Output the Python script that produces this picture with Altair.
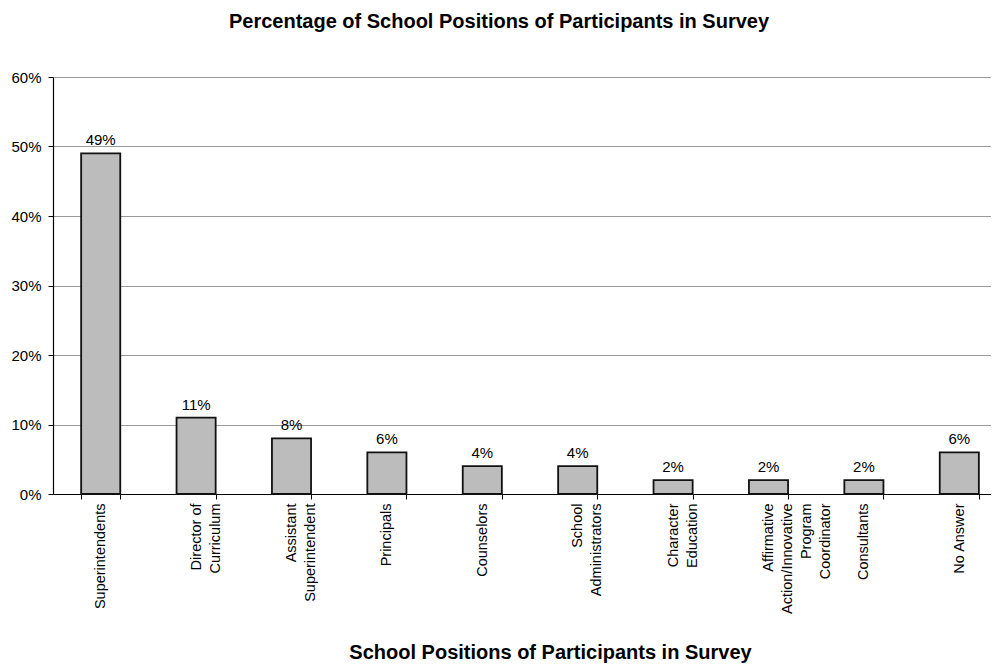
import altair as alt
import pandas as pd

categories = [
    "Superintendents",
    "Director of|Curriculum",
    "Assistant|Superintendent",
    "Principals",
    "Counselors",
    "School|Administrators",
    "Character|Education",
    "Affirmative|Action/Innovative|Program|Coordinator",
    "Consultants",
    "No Answer",
]
values = [49, 11, 8, 6, 4, 4, 2, 2, 2, 6]
y_ticks = [0, 10, 20, 30, 40, 50, 60]

df = pd.DataFrame({"position": categories, "pct": values})
df["label"] = df["pct"].astype(str) + "%"

FONT = "Liberation Sans"

x_enc = alt.X(
    "position:N",
    sort=categories,
    scale=alt.Scale(paddingInner=0.59, paddingOuter=0.295),
    axis=alt.Axis(
        title="School Positions of Participants in Survey",
        labelAngle=-90,
        labelAlign="right",
        labelBaseline="middle",
        labelExpr="split(datum.label, '|')",
        labelFont=FONT,
        labelFontSize=14.5,
        labelColor="#000",
        labelLineHeight=19,
        labelPadding=4,
        labelLimit=300,
        tickBand="extent",
        tickSize=5,
        tickColor="#000",
        domainColor="#000",
        domainWidth=1.2,
        titleFont=FONT,
        titleFontSize=20,
        titleFontWeight="bold",
        titleColor="#000",
        titleX=497,
        titleY=164,
        titleBaseline="alphabetic",
        titleAnchor="middle",
        titleAlign="center",
        grid=False,
    ),
)

y_enc = alt.Y(
    "pct:Q",
    scale=alt.Scale(domain=[0, 60], nice=False),
    axis=alt.Axis(
        title=None,
        values=y_ticks,
        labelExpr="datum.value + '%'",
        labelFont=FONT,
        labelFontSize=15,
        labelColor="#000",
        labelPadding=7,
        tickSize=5,
        tickColor="#000",
        domainColor="#000",
        domainWidth=1.2,
        grid=True,
        gridColor="#9a9a9a",
        gridWidth=1,
    ),
)

bars = alt.Chart(df).mark_bar(
    fill="#bcbcbc", stroke="#111", strokeWidth=1.8
).encode(x=x_enc, y=y_enc)

texts = alt.Chart(df).mark_text(
    font=FONT, fontSize=15, color="#000", baseline="alphabetic", dy=-8
).encode(x=alt.X("position:N", sort=categories), y="pct:Q", text="label:N")

chart = (
    alt.layer(bars, texts)
    .properties(
        width=954,
        height=417,
        title=alt.TitleParams(
            "Percentage of School Positions of Participants in Survey",
            font=FONT,
            fontSize=20,
            fontWeight="bold",
            color="#000",
            anchor="middle",
            baseline="alphabetic",
            offset=22,
            dx=-31,
        ),
        autosize=alt.AutoSizeParams(type="none"),
        padding={"left": 45, "top": 69, "right": -16, "bottom": 170},
        background="white",
    )
    .configure_view(stroke=None)
)

chart.save("out.html", embed_options={"renderer": "svg", "actions": False})
